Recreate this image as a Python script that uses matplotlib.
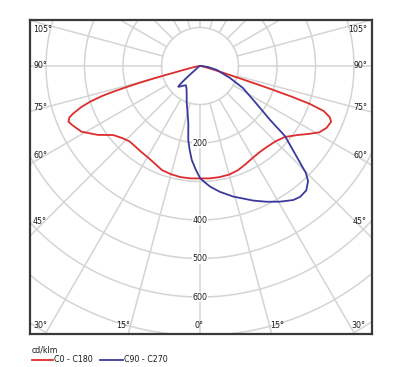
import numpy as np
import matplotlib
matplotlib.use("Agg")
import matplotlib.pyplot as plt
from matplotlib.lines import Line2D

# ---------------- data (cd/klm) ----------------
# C0 plane (right half, red)
c0_gamma = [0, 5, 10, 15, 20, 25, 30, 35, 40, 45, 50, 55, 58, 61, 64, 67, 68.5, 70, 71, 71.5, 72, 72.5, 73, 74, 76, 80, 85, 90]
c0_cd    = [292, 293, 293, 292, 288, 281, 275, 272, 273, 277, 287, 312, 333, 355, 366, 370, 362, 342, 300, 250, 190, 130, 90, 55, 25, 9, 3, 0]
# C180 plane (left half, red)
c180_gamma = [0, 5, 10, 15, 20, 25, 30, 35, 40, 43, 47, 51.5, 56, 61, 65, 67, 68.5, 69.5, 71, 72, 73, 73.5, 74, 74.5, 75, 75.5, 76.5, 79, 84, 90]
c180_cd    = [292, 293, 293, 291, 288, 279, 273, 270, 268, 268, 275, 288, 320, 352, 365, 371, 365, 351, 325, 300, 265, 235, 200, 161, 120, 80, 45, 18, 6, 0]
# C90 plane (right half, blue)
c90_gamma = [0, 2.5, 4.7, 9, 14.3, 21.6, 26.2, 30.5, 34.8, 37.4, 40.5, 43.2, 44.7, 46.8, 50.5, 52.4, 56.5, 62.9, 68.2, 76.8, 82.9, 90]
c90_cd    = [291, 303, 314, 331, 350, 376, 393, 409, 424, 428, 425, 410, 391, 345, 286, 230, 174, 125, 84, 45, 21, 5]
# C270 plane (left half, blue)
c270_gamma = [0, 2.5, 5, 7, 9, 11.6, 15, 19.8, 26, 31, 36, 41, 44, 46.3, 47.5, 48.5, 49.5, 52, 60, 90]
c270_cd    = [291, 268, 245, 220, 195, 151, 125, 102, 79, 68, 62, 68, 74, 78, 70, 50, 30, 12, 5, 0]

ring_values = [100, 200, 300, 400, 500, 600, 700, 800, 900]
ring_labels = ["200", "400", "500", "600"]
angle_labels_left = ["105°", "90°", "75°", "60°", "45°"]
angle_labels_bottom = ["30°", "15°", "0°", "15°", "30°"]
angle_labels_right = ["105°", "90°", "75°", "60°", "45°"]
legend_unit = "cd/klm"
legend_names = ["C0 - C180", "C90 - C270"]

RED = "#dd2c2c"
BLUE = "#3b3a9c"
GRID = "#d4d4d4"
TXT = "#1a1a1a"

# ---------------- figure ----------------
W, H = 400, 367
fig = plt.figure(figsize=(W / 100, H / 100), dpi=100)
L, R, T, B = 30, 372, 20, 334
ax = fig.add_axes([L / W, 1 - B / H, (R - L) / W, (B - T) / H])

scale = 0.385  # px per cd/klm
cx, cy = 200, 66
ax.set_xlim((L - cx) / scale, (R - cx) / scale)
ax.set_ylim(-(B - cy) / scale, (cy - T) / scale)
ax.set_aspect("equal", adjustable="box")
ax.set_xticks([])
ax.set_yticks([])
for s in ax.spines.values():
    s.set_color("#3a3a3a")
    s.set_linewidth(1.6)

# grid circles
t = np.linspace(0, 2 * np.pi, 400)
for r in ring_values:
    ax.plot(r * np.cos(t), r * np.sin(t), color=GRID, lw=1.1, zorder=1)
# spokes every 15 deg starting from the first ring
for a in np.arange(0, 360, 15):
    ar = np.radians(a)
    ax.plot([100 * np.sin(ar), 1200 * np.sin(ar)], [-100 * np.cos(ar), -1200 * np.cos(ar)],
            color=GRID, lw=1.1, zorder=1)


def polar_xy(gam, cd, side):
    g = np.radians(np.asarray(gam, float))
    r = np.asarray(cd, float)
    return side * r * np.sin(g), -r * np.cos(g)


# red curve (C180 left -> C0 right)
xl, yl = polar_xy(c180_gamma, c180_cd, -1)
xr, yr = polar_xy(c0_gamma, c0_cd, 1)
ax.plot(np.r_[xl[::-1], xr], np.r_[yl[::-1], yr], color=RED, lw=1.3, zorder=3,
        solid_joinstyle="round")
# blue curve (C270 left -> C90 right)
xl, yl = polar_xy(c270_gamma, c270_cd, -1)
xr, yr = polar_xy(c90_gamma, c90_cd, 1)
ax.plot(np.r_[xl[::-1], xr], np.r_[yl[::-1], yr], color=BLUE, lw=1.3, zorder=4,
        solid_joinstyle="round")

# ring labels
fs = 5.7
for lab in ring_labels:
    ax.text(0, -float(lab), lab, ha="center", va="center", fontsize=fs, color=TXT,
            zorder=5, bbox=dict(boxstyle="square,pad=0.1", fc="white", ec="none"))


def px2ax(px, py):
    return (px - L) / (R - L), (B - py) / (B - T)


left_y = [30, 66, 107, 155, 221]
for lab, py in zip(angle_labels_left, left_y):
    x, y = px2ax(33, py)
    ax.text(x, y, lab, transform=ax.transAxes, ha="left", va="center", fontsize=fs, color=TXT, zorder=6)
for lab, py in zip(angle_labels_right, left_y):
    x, y = px2ax(367, py)
    ax.text(x, y, lab, transform=ax.transAxes, ha="right", va="center", fontsize=fs, color=TXT, zorder=6)
bottom_x = [40, 123, 199, 277, 358]
for lab, px in zip(angle_labels_bottom, bottom_x):
    x, y = px2ax(px, 325)
    ax.text(x, y, lab, transform=ax.transAxes, ha="center", va="center", fontsize=fs, color=TXT, zorder=6)

# legend
fig.text(32 / W, 1 - 350 / H, legend_unit, ha="left", va="center", fontsize=fs, color=TXT)
fig.add_artist(Line2D([32 / W, 53 / W], [1 - 360 / H] * 2, color=RED, lw=1.3))
fig.text(54 / W, 1 - 360 / H, legend_names[0], ha="left", va="center", fontsize=fs, color=TXT)
fig.add_artist(Line2D([100 / W, 123 / W], [1 - 360 / H] * 2, color=BLUE, lw=1.3))
fig.text(124 / W, 1 - 360 / H, legend_names[1], ha="left", va="center", fontsize=fs, color=TXT)

fig.savefig("out.png", dpi=100)
